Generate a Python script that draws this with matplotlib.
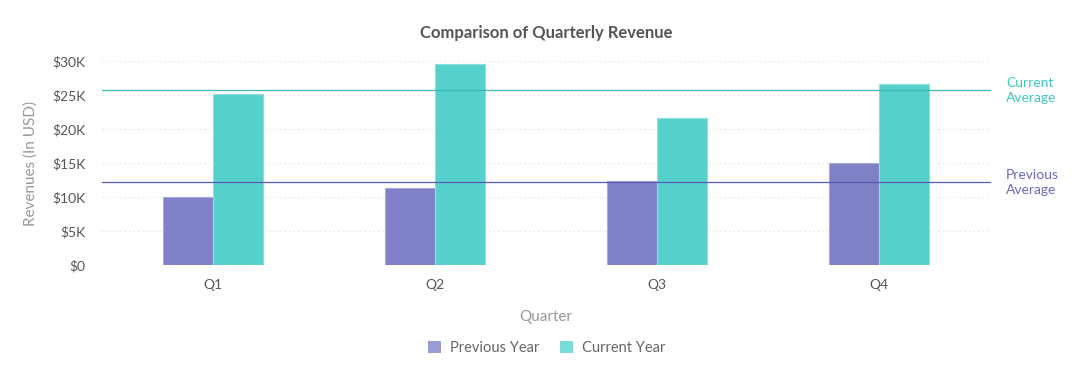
import matplotlib.pyplot as plt
import numpy as np
from matplotlib.ticker import FuncFormatter
from matplotlib.patches import Patch

plt.rcParams['font.family'] = ['Lato', 'DejaVu Sans']

quarters = ['Q1', 'Q2', 'Q3', 'Q4']
previous_year = [10000, 11300, 12400, 15000]
current_year = [25200, 29600, 21600, 26600]

prev_avg = np.mean(previous_year)
curr_avg = np.mean(current_year)

prev_color = '#7f80c5'
curr_color = '#55d0cc'

fig = plt.figure(figsize=(10.76, 3.92), dpi=100)
ax = fig.add_axes([0.0948, 0.324, 0.8253, 0.520])

x = np.arange(len(quarters)) + 0.5
w = 0.225
ax.bar(x - w / 2, previous_year, w, color=prev_color, edgecolor='#a9aad8', linewidth=0.8, zorder=2)
ax.bar(x + w / 2, current_year, w, color=curr_color, edgecolor='#8de0dc', linewidth=0.8, zorder=2)

ax.axhline(curr_avg, color='#3bb9b2', linewidth=0.9, zorder=3, clip_on=False)
ax.axhline(prev_avg, color='#5a5ab8', linewidth=0.9, zorder=3, clip_on=False)

ax.text(1.018, curr_avg, 'Current\nAverage', transform=ax.get_yaxis_transform(),
        color='#3cc7c0', fontsize=10, va='center', ha='left', linespacing=1.3)
ax.text(1.018, prev_avg, 'Previous\nAverage', transform=ax.get_yaxis_transform(),
        color='#6a6ac0', fontsize=10, va='center', ha='left', linespacing=1.3)

ax.set_xlim(0, 4)
ax.set_ylim(0, 30000)
ax.set_xticks(x)
ax.set_xticklabels(quarters)
ax.set_yticks(np.arange(0, 30001, 5000))
ax.yaxis.set_major_formatter(FuncFormatter(lambda v, p: '$0' if v == 0 else '${:.0f}K'.format(v / 1000)))
ax.tick_params(axis='both', length=0, labelsize=10, labelcolor='#555555')
ax.tick_params(axis='x', pad=10)
ax.tick_params(axis='y', pad=12)
ax.grid(axis='y', linestyle=(0, (1, 3)), color='#dddddd', linewidth=0.8, zorder=0)
for s in ax.spines.values():
    s.set_visible(False)

ax.set_xlabel('Quarter', fontsize=11, color='#999999', labelpad=14)
ax.set_ylabel('Revenues (In USD)', fontsize=11, color='#999999', labelpad=10)
fig.suptitle('Comparison of Quarterly Revenue', x=0.508, y=0.935, fontsize=12,
             fontweight='bold', color='#555555')

handles = [Patch(facecolor='#9a9bd2', label='Previous Year'),
           Patch(facecolor='#78dcd8', label='Current Year')]
fig.legend(handles=handles, loc='center', bbox_to_anchor=(0.508, 0.112), ncol=2,
           frameon=False, fontsize=10.5, labelcolor='#666666', handlelength=0.9,
           handleheight=0.9, handletextpad=0.6, columnspacing=1.4)

fig.savefig('out.png', dpi=100)
